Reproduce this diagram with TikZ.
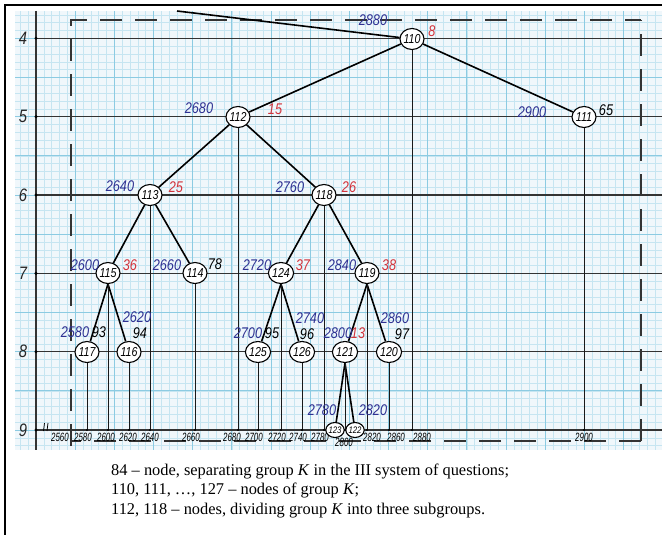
\documentclass[tikz,border=0pt]{standalone}
\usepackage{fontspec}
\setmainfont{Liberation Serif}
\newfontfamily\hand[FakeStretch=0.82]{Liberation Sans}
\newfontfamily\handc[FakeStretch=0.66]{Liberation Sans}
\usetikzlibrary{shapes.geometric}
\definecolor{bluelab}{HTML}{2E3192}
\definecolor{redlab}{HTML}{D2343C}
\definecolor{paper}{HTML}{F0F7FB}
\definecolor{gridminor}{HTML}{C6E5F1}
\definecolor{gridmajor}{HTML}{8CCBE2}
\begin{document}
\begin{tikzpicture}[x=1pt,y=-1pt,
  tnode/.style={ellipse,draw=black,line width=1.1pt,fill=white,inner sep=0pt,
    minimum width=24pt,minimum height=21pt,font=\hand\itshape\fontsize{13}{13}\selectfont},
  snode/.style={tnode,minimum width=18pt,minimum height=15pt,font=\hand\itshape\fontsize{9.5}{9.5}\selectfont},
  edge/.style={line width=1.6pt,black},
  drop/.style={line width=0.9pt,black!90},
  levelline/.style={line width=1.2pt,black!80},
  frameline/.style={line width=1.3pt,black!80,dash pattern=on 22pt off 13pt},
  bl/.style={text=bluelab,font=\hand\itshape\fontsize{15.5}{15.5}\selectfont,inner sep=0pt},
  rl/.style={bl,text=redlab},
  kl/.style={bl,text=black},
  axl/.style={inner sep=0pt,text=black,font=\handc\itshape\fontsize{12}{12}\selectfont},
  lev/.style={inner sep=0pt,text=black!85,font=\hand\itshape\fontsize{18}{18}\selectfont},
  captext/.style={anchor=base west,inner sep=0pt,font=\fontsize{16.4}{16.4}\selectfont}]
\useasboundingbox (0,0) rectangle (662,535);
% graph paper
\begin{scope}
\clip (15,11) rectangle (662,450);
\fill[paper] (15,11) rectangle (662,450);
\foreach \i in {-3,...,80} \draw[gridminor,line width=0.5pt] ({36+\i*7.833},11) -- ({36+\i*7.833},450);
\foreach \j in {-4,...,53} \draw[gridminor,line width=0.5pt] (15,{38.33+\j*7.833}) -- (662,{38.33+\j*7.833});
\foreach \i in {-1,...,16} \draw[gridmajor,line width=0.8pt] ({36+\i*39.17},11) -- ({36+\i*39.17},450);
\foreach \j in {-1,...,11} \draw[gridmajor,line width=0.8pt] (15,{38.33+\j*39.17}) -- (662,{38.33+\j*39.17});
\end{scope}
% border
\draw[line width=2pt] (662,5) -- (5,5) -- (5,535);
% axis and levels
\draw[levelline] (36,11) -- (36,450);
\foreach \y/\t in {38.3/4,116.7/5,195/6,273.3/7,351.7/8,430/9} {
  \draw[levelline] (36,\y) -- (662,\y);
  \fill (36,\y) circle (1.7pt);
  \node[lev] at (23,\y) {\t};
}
\coordinate (b9) at (0,430);
% dashed frame
\draw[frameline] (71,446) -- (71,20) -- (641,20);
\draw[frameline] (641,441) -- (641,20);
\draw[frameline] (641,441) -- (71,441);
% mark
\draw[line width=0.8pt] (44.5,423) -- (43.5,431) (48,423) -- (47,431);
% bottom labels
\foreach \x/\t in {60/2560,83/2580,106/2600,128/2620,150/2640,191/2660,232/2680,254/2700,277/2720,298/2740,320/2780,372/2820,396/2860,422/2880,584/2900}
  \node[axl] at (\x,437) {\t};
\node[axl] at (344,442) {2800};
% nodes
\node[tnode] (n110) at (412,39) {110};
\node[tnode] (n111) at (584,117) {111};
\node[tnode] (n112) at (238,117) {112};
\node[tnode] (n113) at (150,195) {113};
\node[tnode] (n118) at (324,195) {118};
\node[tnode] (n115) at (108,273) {115};
\node[tnode] (n114) at (195,273) {114};
\node[tnode] (n124) at (281,273) {124};
\node[tnode] (n119) at (367,273) {119};
\node[tnode] (n117) at (87,352) {117};
\node[tnode] (n116) at (129,352) {116};
\node[tnode] (n125) at (258,352) {125};
\node[tnode] (n126) at (302,352) {126};
\node[tnode] (n121) at (345,352) {121};
\node[tnode] (n120) at (389,352) {120};
\node[snode] (n123) at (335,430) {123};
\node[snode] (n122) at (355,430) {122};
\coordinate (n84) at (177,11);
% edges
\draw[edge] (n84) -- (n110);
\draw[edge] (n110) -- (n112);
\draw[edge] (n110) -- (n111);
\draw[edge] (n112) -- (n113);
\draw[edge] (n112) -- (n118);
\draw[edge] (n113) -- (n115);
\draw[edge] (n113) -- (n114);
\draw[edge] (n118) -- (n124);
\draw[edge] (n118) -- (n119);
\draw[edge] (n115.south) -- (n117);
\draw[edge] (n115.south) -- (n116);
\draw[edge] (n124.south) -- (n125);
\draw[edge] (n124.south) -- (n126);
\draw[edge] (n119.south) -- (n121);
\draw[edge] (n119.south) -- (n120);
\draw[edge] (n121.south) -- (n123);
\draw[edge] (n121.south) -- (n122);
% drops to level 9
\foreach \n in {n110,n111,n112,n113,n118,n115,n114,n124,n119,n117,n116,n125,n126,n121,n120} {
  \draw[drop] (\n.south) -- (\n.south |- b9);
  \fill (\n.south |- b9) circle (1.2pt);
}
% labels
\node[bl] at (373,20) {2880};
\node[rl] at (432,31) {8};
\node[bl] at (199,108) {2680};
\node[rl] at (275,109) {15};
\node[bl] at (532,112) {2900};
\node[kl] at (606,110) {65};
\node[bl] at (120,186) {2640};
\node[rl] at (176,187) {25};
\node[bl] at (290,187) {2760};
\node[rl] at (349,187) {26};
\node[bl] at (85,265) {2600};
\node[rl] at (130,265) {36};
\node[bl] at (167,265) {2660};
\node[kl] at (215,264) {78};
\node[bl] at (257,265) {2720};
\node[rl] at (303,265) {37};
\node[bl] at (342,265) {2840};
\node[rl] at (389,265) {38};
\node[bl] at (75,332) {2580};
\node[kl] at (99,332) {93};
\node[bl] at (137,317) {2620};
\node[kl] at (140,333) {94};
\node[bl] at (248,333) {2700};
\node[kl] at (272,333) {95};
\node[bl] at (310,318) {2740};
\node[kl] at (307,334) {96};
\node[bl] at (338,333) {2800};
\node[rl] at (358,333) {13};
\node[bl] at (395,318) {2860};
\node[kl] at (402,334) {97};
\node[bl] at (322,410) {2780};
\node[bl] at (373,410) {2820};
% caption
\node[captext] (c1) at (111,475) {84 – node, separating group \textit{K} in the III system of questions;};
\node[captext] (c2) at (111,494.5) {110, 111, …, 127 – nodes of group \textit{K};};
\node[captext] (c3) at (111,514) {112, 118 – nodes, dividing group \textit{K} into three subgroups.};
\end{tikzpicture}
\end{document}
